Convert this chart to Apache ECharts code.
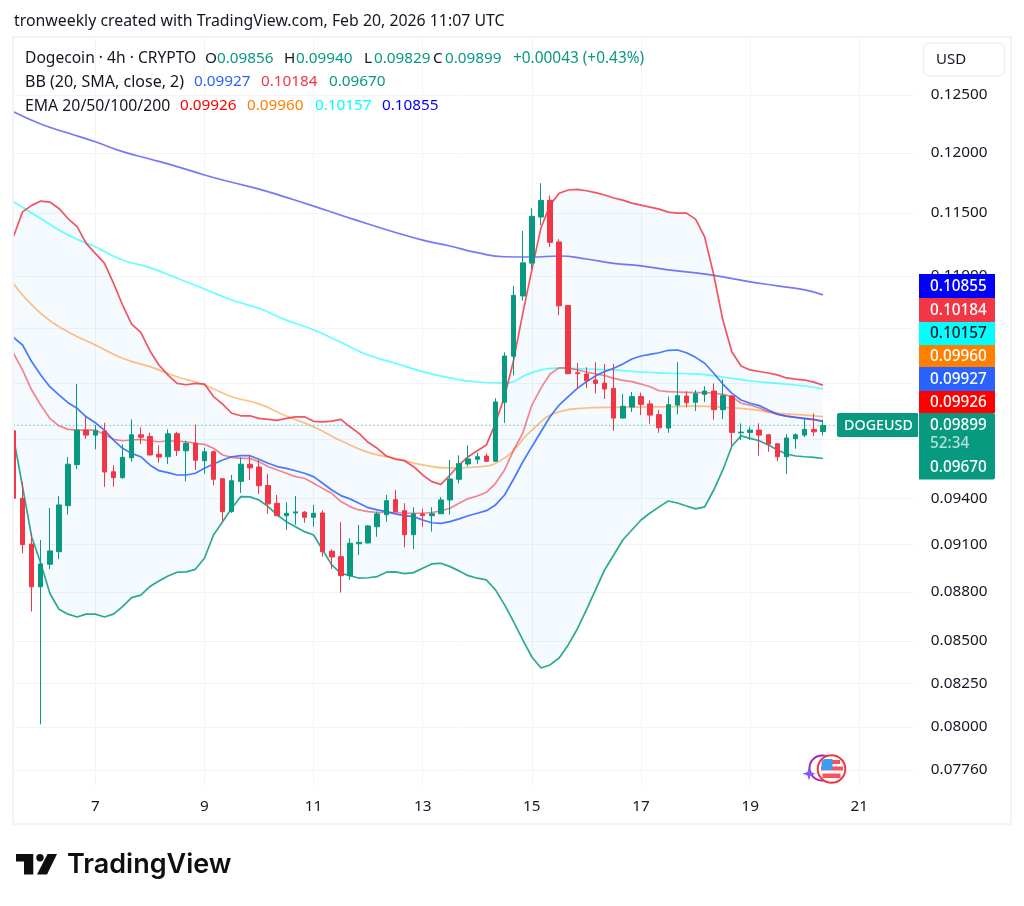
<!DOCTYPE html>
<html><head><meta charset="utf-8">
<style>html,body{margin:0;padding:0;background:#fff}#c{width:1024px;height:906px}</style>
<script src="https://cdn.jsdelivr.net/npm/echarts@6/dist/echarts.min.js"></script>
</head><body><div id="c"></div>
<script>
const opens=[.09861,.09402,.09103,.08832,.08974,.09054,.09353,.09628,.09866,.09831,
.09859,.09580,.09540,.09675,.09833,.09822,.09699,.09682,.09841,.09723,
.09774,.09655,.09716,.09533,.09314,.09515,.09631,.09612,.09488,.09369,
.09287,.09305,.09310,.09277,.09305,.09057,.09022,.08902,.09105,.09110,
.09215,.09294,.09393,.09320,.09163,.09299,.09287,.09300,.09391,.09529,
.09633,.09665,.09687,.09651,.10062,.10394,.10846,.11101,.11468,.11604,
.11268,.10774,.10274,.10265,.10221,.10199,.10161,.09950,.10028,.10102,
.10050,.09974,.09880,.10042,.10106,.10062,.10118,.10142,.10009,.10106,
.09847,.09850,.09866,.09833,.09771,.09682,.09806,.09831,.09871,.09856];
const closes=[.09402,.09099,.08832,.08976,.09059,.09358,.09631,.09866,.09831,.09861,
.09578,.09540,.09678,.09833,.09817,.09694,.09680,.09840,.09725,.09774,
.09658,.09716,.09529,.09314,.09519,.09631,.09606,.09486,.09365,.09287,
.09303,.09312,.09277,.09303,.09054,.09020,.08902,.09108,.09114,.09220,
.09299,.09386,.09314,.09163,.09299,.09287,.09300,.09391,.09531,.09635,
.09667,.09682,.09651,.10064,.10396,.10851,.11103,.11474,.11604,.11265,
.10771,.10267,.10267,.10216,.10197,.10156,.09950,.10033,.10102,.10047,
.09971,.09882,.10045,.10109,.10059,.10122,.10142,.10009,.10109,.09850,
.09852,.09866,.09831,.09769,.09682,.09811,.09833,.09871,.09854,.09899];
const lows=[.09259,.09044,.08679,.08015,.08944,.09007,.09294,.09597,.09806,.09733,
.09479,.09479,.09533,.09648,.09769,.09692,.09642,.09633,.09687,.09515,
.09592,.09565,.09490,.09248,.09305,.09437,.09524,.09431,.09299,.09285,
.09194,.09226,.09241,.09215,.09022,.08944,.08796,.08875,.09033,.09108,
.09150,.09248,.09312,.09082,.09071,.09215,.09183,.09299,.09294,.09502,
.09615,.09633,.09646,.09651,.09917,.10255,.10810,.11056,.11403,.11228,
.10700,.10263,.10158,.10163,.10125,.10085,.09861,.09948,.09993,.09971,
.09910,.09847,.09847,.09976,.10026,.10000,.10064,.09938,.09943,.09756,
.09797,.09797,.09689,.09716,.09651,.09563,.09737,.09817,.09824,.09829];
const highs=[.10030,.09511,.09168,.09129,.09338,.09417,.09680,.10192,.09959,.09901,
.09917,.09624,.09767,.09941,.09885,.09847,.09760,.09871,.09854,.09792,
.09904,.09744,.09725,.09533,.09558,.09678,.09694,.09660,.09565,.09424,
.09376,.09417,.09318,.09358,.09323,.09069,.09244,.09140,.09226,.09226,
.09314,.09424,.09457,.09369,.09343,.09334,.09343,.09411,.09660,.09692,
.09760,.09709,.09705,.10090,.10423,.10924,.11356,.11539,.11745,.11644,
.11290,.10776,.10345,.10314,.10350,.10338,.10338,.10122,.10135,.10130,
.10076,.10007,.10102,.10350,.10140,.10149,.10176,.10197,.10226,.10113,
.09913,.09889,.09913,.09838,.09774,.09838,.09843,.09952,.09983,.09940];
const bbUpper=[.11310,.11510,.11563,.11598,.11590,.11538,.11456,.11390,.11257,.11178,
.11101,.10945,.10777,.10632,.10571,.10435,.10330,.10257,.10197,.10187,
.10197,.10192,.10102,.10048,.09984,.09966,.09966,.09948,.09941,.09934,
.09948,.09959,.09959,.09927,.09924,.09929,.09941,.09889,.09843,.09781,
.09740,.09687,.09665,.09655,.09614,.09558,.09513,.09495,.09558,.09626,
.09682,.09723,.09762,.09915,.10102,.10367,.10714,.11048,.11381,.11565,
.11662,.11689,.11695,.11683,.11667,.11648,.11623,.11606,.11581,.11565,
.11549,.11532,.11508,.11500,.11500,.11451,.11308,.11010,.10663,.10425,
.10323,.10294,.10283,.10272,.10258,.10236,.10228,.10221,.10206,.10184];
const bbLower=[.09818,.09479,.09150,.08980,.08792,.08693,.08663,.08646,.08663,.08663,
.08646,.08663,.08709,.08765,.08780,.08834,.08869,.08900,.08924,.08926,
.08942,.09012,.09161,.09248,.09336,.09413,.09411,.09391,.09347,.09292,
.09248,.09215,.09183,.09161,.09065,.08970,.08917,.08902,.08886,.08889,
.08896,.08924,.08926,.08915,.08921,.08949,.08976,.08980,.08959,.08932,
.08902,.08886,.08875,.08813,.08720,.08616,.08507,.08405,.08340,.08358,
.08399,.08477,.08573,.08689,.08813,.08938,.09033,.09129,.09194,.09259,
.09305,.09345,.09384,.09371,.09351,.09332,.09345,.09457,.09592,.09756,
.09826,.09808,.09792,.09762,.09728,.09701,.09687,.09682,.09678,.09670];
const bbBasis=[.10534,.10477,.10355,.10257,.10173,.10114,.10059,.10019,.09959,.09917,
.09866,.09797,.09740,.09705,.09682,.09626,.09587,.09574,.09558,.09558,
.09570,.09603,.09633,.09660,.09682,.09689,.09689,.09665,.09638,.09615,
.09603,.09587,.09570,.09547,.09502,.09457,.09420,.09398,.09369,.09340,
.09325,.09314,.09299,.09287,.09281,.09259,.09241,.09237,.09248,.09266,
.09287,.09303,.09320,.09358,.09424,.09531,.09646,.09751,.09854,.09959,
.10042,.10102,.10161,.10209,.10250,.10282,.10307,.10337,.10374,.10396,
.10408,.10420,.10438,.10440,.10420,.10386,.10343,.10270,.10192,.10125,
.10078,.10055,.10038,.10007,.09978,.09964,.09955,.09948,.09941,.09927];
const ema20=[.10416,.10294,.10149,.10042,.09948,.09896,.09871,.09866,.09866,.09866,
.09836,.09802,.09792,.09797,.09802,.09792,.09785,.09792,.09790,.09785,
.09774,.09767,.09740,.09694,.09678,.09671,.09671,.09648,.09615,.09592,
.09570,.09547,.09536,.09502,.09468,.09435,.09380,.09347,.09325,.09314,
.09308,.09308,.09308,.09303,.09303,.09303,.09308,.09318,.09336,.09369,
.09400,.09417,.09442,.09502,.09592,.09728,.09845,.10042,.10163,.10265,
.10309,.10309,.10294,.10279,.10265,.10254,.10233,.10219,.10209,.10192,
.10173,.10144,.10137,.10135,.10133,.10130,.10130,.10128,.10118,.10102,
.10055,.10042,.10021,.09995,.09976,.09964,.09955,.09945,.09938,.09926];
const emaIndex=[0,3,6,9,12,15,18,21,24,27,30,33,36,39,42,45,48,51,54,57,60,63,66,69,72,75,78,81,84,87,89];
const ema50=[.10940,.10714,.10575,.10477,.10379,.10318,.10245,.10185,.10101,.10050,.09964,.09889,.09792,.09712,.09671,.09626,.09606,.09612,.09674,.09866,.09995,.10021,.10026,.10028,.10030,.10035,.10026,.10012,.09985,.09971,.09960];
const ema100=[.11592,.11456,.11323,.11230,.11125,.11066,.10983,.10900,.10815,.10752,.10663,.10590,.10497,.10403,.10343,.10282,.10236,.10207,.10199,.10275,.10307,.10301,.10294,.10279,.10270,.10265,.10243,.10214,.10197,.10178,.10157];
const ema200=[.12353,.12247,.12169,.12094,.12010,.11948,.11884,.11814,.11753,.11697,.11628,.11557,.11483,.11412,.11344,.11283,.11236,.11183,.11151,.11149,.11157,.11133,.11099,.11079,.11048,.11025,.10994,.10955,.10924,.10893,.10855];
const priceTicks=[.125,.12,.115,.11,.106,.102,.098,.094,.091,.088,.085,.0825,.08,.0776];
const lastPrice=.09899;
const slotCount=100, firstSlotDay=5, firstSlotHour=12;
const categories=Array.from({length:slotCount},(_,i)=>{const h=firstSlotHour+i*4;return {day:firstSlotDay+Math.floor(h/24),hour:h%24};});
const catNames=categories.map(c=>c.hour===0&&c.day%2===1?String(c.day):'');
const isDayTick=(i)=>catNames[i]!=='';

const F='"Noto Sans"';
const ink='#131722', green='#089981', red='#f23645';
const texts=[
 ['tronweekly created with TradingView.com, Feb 20, 2026 11:07 UTC',14,21,ink,15.85],
 ['Dogecoin · 4h · CRYPTO',25,59,ink,15.6],
 ['O',205,59,ink,15.3],['0.09856',217,59,green,15.3],
 ['H',284,59,ink,15.3],['0.09940',296,59,green,15.3],
 ['L',364,59,ink,15.3],['0.09829',374,59,green,15.3],
 ['C',433,59,ink,15.3],['0.09899',445,59,green,15.3],
 ['+0.00043 (+0.43%)',513,59,green,15.4],
 ['BB (20, SMA, close, 2)',25,82,ink,16],
 ['0.09927',194,82,'#2962ff',15.3],['0.10184',261,82,red,15.3],['0.09670',329,82,green,15.3],
 ['EMA 20/50/100/200',25,106,ink,15.8],
 ['0.09926',180,106,'#ff0000',15.3],['0.09960',247,106,'#ff7f00',15.3],['0.10157',315,106,'#00ffff',15.3],['0.10855',382,106,'#0000ff',15.3],
 ['USD',936,60,ink,15]
];
const tags=[
 ['0.10855',274,24,'#0000ff','#fff'],['0.10184',298,24,red,'#fff'],['0.10157',322,23,'#00ffff','#131722'],
 ['0.09960',345,22,'#ff7f00','#fff'],['0.09927',367,24,'#2962ff','#fff'],['0.09926',391,22,'#ff0000','#fff']
];
const g=[];
g.push({type:'rect',z:30,shape:{x:0,y:38,width:13,height:760},style:{fill:'#fff'}});
g.push({type:'rect',z:31,shape:{x:13,y:37,width:998,height:787},style:{fill:'none',stroke:'#f0f3fa',lineWidth:2}});
g.push({type:'rect',z:50,shape:{x:923.5,y:43,width:81,height:33,r:6},style:{fill:'#fff',stroke:'#eef0f4',lineWidth:1.5}});
texts.forEach(t=>g.push({type:'text',z:60,style:{x:t[1],y:t[2],text:t[0],fill:t[3],font:t[4]+'px '+F,verticalAlign:'middle'}}));
tags.forEach(t=>{
 g.push({type:'rect',z:50,shape:{x:919,y:t[1],width:76,height:t[2]},style:{fill:t[3]}});
 g.push({type:'text',z:60,style:{x:930,y:t[1]+t[2]/2+.5,text:t[0],fill:t[4],font:'500 15.3px '+F,verticalAlign:'middle'}});
});
g.push({type:'rect',z:50,shape:{x:919,y:413,width:76,height:66.5,r:[0,2,2,0]},style:{fill:green}});
g.push({type:'rect',z:50,shape:{x:837,y:413,width:81,height:24,r:[2,0,0,2]},style:{fill:green}});
[['DOGEUSD',844,425.5,'#fff',14.3],['0.09899',930,425.5,'#fff',15.3],['52:34',930,444,'rgba(255,255,255,.7)',15.3],['0.09670',930,467.5,'#fff',15.3]]
 .forEach(t=>g.push({type:'text',z:60,style:{x:t[1],y:t[2],text:t[0],fill:t[3],font:'500 '+t[4]+'px '+F,verticalAlign:'middle'}}));
// badge
g.push({type:'circle',z:40,shape:{cx:822,cy:768,r:12.5},style:{fill:'#fff',stroke:'#9c27b0',lineWidth:2}});
g.push({type:'polygon',z:41,shape:{points:[[809,767],[810.5,772],[815.5,773.7],[810.5,775.4],[809,780.5],[807.5,775.4],[802.5,773.7],[807.5,772]]},style:{fill:'#7b5cff'}});
g.push({type:'circle',z:42,shape:{cx:831.5,cy:769,r:13.8},style:{fill:'#fff',stroke:red,lineWidth:2}});
g.push({type:'rect',z:43,shape:{x:823,y:760,width:17,height:4},style:{fill:'#f7525f'}});
g.push({type:'rect',z:43,shape:{x:821,y:766.5,width:22,height:4},style:{fill:'#f7525f'}});
g.push({type:'rect',z:43,shape:{x:822.5,y:773.5,width:18,height:4.5},style:{fill:'#f7525f'}});
g.push({type:'rect',z:44,shape:{x:821.5,y:759,width:11,height:11,r:[4,0,0,0]},style:{fill:'#3d9bf0'}});
// logo
g.push({type:'polygon',z:40,shape:{points:[[16,854],[33.3,854],[33.3,874.5],[24,874.5],[24,861.5],[16,861.5]]},style:{fill:'#0f0f0f'}});
g.push({type:'circle',z:40,shape:{cx:40,cy:857.7,r:3.7},style:{fill:'#0f0f0f'}});
g.push({type:'polygon',z:40,shape:{points:[[47.5,854],[57,854],[47,874.5],[37,874.5]]},style:{fill:'#0f0f0f'}});
g.push({type:'text',z:40,style:{x:67,y:865,text:'TradingView',fill:'#0f0f0f',font:'600 27px Inter',verticalAlign:'middle'}});

const pairs=(ys)=>ys.map((v,i)=>[emaIndex[i],v]);
const line=(name,data,color,opacity,z,w,smooth)=>({name,type:'line',data,z,showSymbol:false,symbol:'none',smooth:!!smooth,silent:true,
  lineStyle:{color,width:w||1.7,opacity},itemStyle:{color}});
const option={
 animation:false,backgroundColor:'#fff',graphic:g,
 grid:{left:13.44,top:38,width:900.4,height:748,containLabel:false},
 xAxis:{type:'category',boundaryGap:false,data:catNames.map((n,i)=>n||('s'+i)),
  axisLine:{show:false},axisTick:{show:false},
  axisLabel:{interval:(i)=>isDayTick(i),formatter:(v)=>v[0]==='s'?'':v,color:ink,fontFamily:F,fontSize:15.3,margin:13,hideOverlap:false,showMinLabel:true,showMaxLabel:true},
  splitLine:{show:true,interval:(i)=>isDayTick(i),lineStyle:{color:'#f2f4f7',width:1}}},
 yAxis:{type:'log',logBase:10,position:'right',min:.07673,max:.13014,
  axisLine:{show:false},
  axisTick:{show:false,customValues:priceTicks},
  axisLabel:{customValues:priceTicks,formatter:(v)=>Number(v).toFixed(5),color:ink,fontFamily:F,fontSize:15.3,margin:17,showMinLabel:true,showMaxLabel:true},
  splitLine:{show:true,lineStyle:{color:'#f2f4f7',width:1}}},
 series:[
  {type:'custom',z:1,silent:true,data:bbUpper.map((v,i)=>[i,v]),encode:{x:0,y:1},
   renderItem:(p,api)=>{ if(p.dataIndex!==0) return null;
     const pts=bbUpper.map((v,i)=>api.coord([i,v])).concat(bbLower.map((v,i)=>api.coord([i,v])).reverse());
     return {type:'polygon',shape:{points:pts},style:{fill:'rgba(33,150,243,0.05)'}};}},
  {name:'Last price',type:'line',z:2,symbol:'none',silent:true,data:[[0,lastPrice],[slotCount-1,lastPrice]],
   lineStyle:{type:[1,3],color:green,width:1,opacity:.85}},
  line('EMA200',pairs(ema200),'#4a4af5',.75,3,1.7,true),
  line('EMA100',pairs(ema100),'#00ffff',.6,3,1.7,true),
  line('EMA50',pairs(ema50),'#ff8c1a',.55,3,1.7,true),
  line('EMA20',ema20,'#f23645',.6,3),
  line('BB basis',bbBasis,'#2962ff',.85,4),
  line('BB upper',bbUpper,'#f23645',.85,4),
  line('BB lower',bbLower,'#089981',.85,4),
  {name:'DOGEUSD',type:'candlestick',z:5,barWidth:5,silent:true,
   data:opens.map((o,i)=>[o,closes[i],lows[i],highs[i]]),
   itemStyle:{color:green,color0:red,borderColor:green,borderColor0:red,borderWidth:1}}
 ]
};
const chart=echarts.init(document.getElementById('c'),null,{renderer:'canvas'});
chart.setOption(option);
</script></body></html>
